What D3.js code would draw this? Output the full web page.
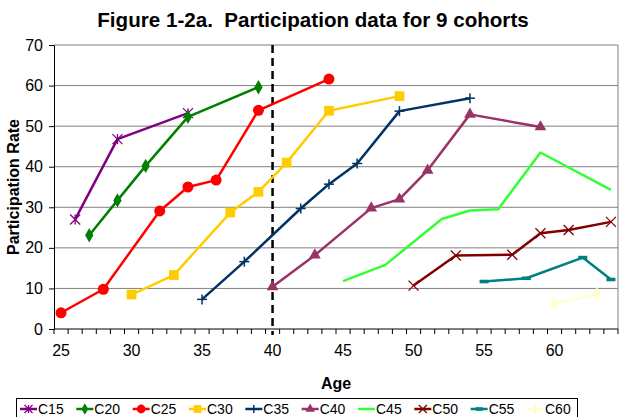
<!DOCTYPE html>
<html><head><meta charset="utf-8">
<script src="https://cdn.jsdelivr.net/npm/d3@7"></script>
<style>
html,body{margin:0;padding:0;background:#fff;}
svg{display:block;font-family:"Liberation Sans",Arial,sans-serif;}
</style></head>
<body>
<svg id="chart" width="624" height="417"></svg>
<script>
const ages = d3.range(25, 65);
const xTickLabels = [25, 30, 35, 40, 45, 50, 55, 60];
const yTicks = [0, 10, 20, 30, 40, 50, 60, 70];
const cohortNames = ["C15","C20","C25","C30","C35","C40","C45","C50","C55","C60"];
const C15 = [[26,27.0],[29,46.8],[34,53.2]];
const C20 = [[27,23.1],[29,31.7],[31,40.2],[34,52.3],[39,59.6]];
const C25 = [[25,4.0],[28,9.8],[32,29.1],[34,35.0],[36,36.7],[39,53.9],[44,61.6]];
const C30 = [[30,8.5],[33,13.3],[37,28.7],[39,33.8],[41,41.0],[44,53.8],[49,57.4]];
const C35 = [[35,7.3],[38,16.6],[42,29.7],[44,35.7],[46,40.8],[49,53.7],[54,56.9]];
const C40 = [[40,10.4],[43,18.2],[47,29.8],[49,32.0],[51,39.1],[54,52.9],[59,49.8]];
const C45 = [[45,11.8],[48,15.8],[52,27.1],[54,29.2],[56,29.5],[59,43.5],[64,34.3]];
const C50 = [[50,10.7],[53,18.1],[57,18.3],[59,23.6],[61,24.4],[64,26.4]];
const C55 = [[55,11.7],[58,12.5],[62,17.6],[64,12.2]];
const C60 = [[60,6.3],[63,8.6]];
const dividerAge = 40;

const seriesData = [C15,C20,C25,C30,C35,C40,C45,C50,C55,C60];
const colors = ["#800080","#008000","#FF0000","#FFCC00","#003366","#993366","#33FF33","#800000","#008080","#FFFFCC"];
const markers = ["star","diamond","circle","square","plus","triangle","none","x","dash","diamond"];

const svg = d3.select("#chart");
const pL = 54, pR = 618, pT = 45, pB = 329;
const x = d3.scaleBand().domain(ages).range([pL, pR]).paddingInner(0).paddingOuter(0);
const xc = a => x(a) + x.bandwidth()/2;
const y = d3.scaleLinear().domain([0, 70]).range([pB, pT]);

// title
svg.append("text").attr("x", 313).attr("y", 27).attr("text-anchor","middle")
  .style("white-space","pre").attr("xml:space","preserve")
  .attr("font-size", 20.6).attr("font-weight","bold").text("Figure 1-2a.  Participation data for 9 cohorts");

// gridlines
svg.append("g").selectAll("line").data(yTicks.filter(d=>d>0)).join("line")
  .attr("x1", pL).attr("x2", pR).attr("y1", d=>y(d)).attr("y2", d=>y(d))
  .attr("stroke","#808080").attr("stroke-width",1);
// right border
svg.append("line").attr("x1", pR).attr("x2", pR).attr("y1", pT).attr("y2", pB)
  .attr("stroke","#808080").attr("stroke-width",1);

// y axis
const yAxis = svg.append("g").attr("transform",`translate(${pL},0)`)
  .call(d3.axisLeft(y).tickValues(yTicks).tickSize(5).tickPadding(6));
yAxis.select(".domain").attr("stroke","#000");
yAxis.selectAll(".tick line").attr("stroke","#000");
yAxis.selectAll("text").attr("font-size",16).attr("font-family","Liberation Sans, Arial, sans-serif").attr("fill","#000");

// x axis line and boundary ticks
svg.append("line").attr("x1", pL).attr("x2", pR).attr("y1", pB).attr("y2", pB).attr("stroke","#000");
svg.append("g").selectAll("line").data(ages.concat([null])).join("line")
  .attr("x1", d=> d===null ? pR : x(d)).attr("x2", d=> d===null ? pR : x(d))
  .attr("y1", pB).attr("y2", pB+5).attr("stroke","#000");
const xAxis = svg.append("g").attr("transform",`translate(0,${pB})`)
  .call(d3.axisBottom(x).tickValues(xTickLabels).tickSize(0).tickPadding(16));
xAxis.select(".domain").remove();
xAxis.selectAll("text").attr("font-size",16).attr("font-family","Liberation Sans, Arial, sans-serif").attr("fill","#000");

// axis titles
svg.append("text").attr("x", 336).attr("y", 389).attr("text-anchor","middle")
  .attr("font-size",16).attr("font-weight","bold").text("Age");
svg.append("text").attr("transform",`translate(19,${(pT+pB)/2}) rotate(-90)`).attr("text-anchor","middle")
  .attr("font-size",16).attr("font-weight","bold").text("Participation Rate");

// dashed divider
svg.append("line").attr("x1", xc(dividerAge)).attr("x2", xc(dividerAge)).attr("y1", pT).attr("y2", pB+6)
  .attr("stroke","#000").attr("stroke-width",2.5).attr("stroke-dasharray","8,5");

function drawMarker(g, type, color, cx, cy, scale) {
  scale = scale || 1;
  const s = 5*scale;
  if (type === "star") {
    [[-s,-s,s,s],[-s,s,s,-s],[0,-s,0,s]].forEach(l=>
      g.append("line").attr("x1",cx+l[0]).attr("y1",cy+l[1]).attr("x2",cx+l[2]).attr("y2",cy+l[3])
       .attr("stroke",color).attr("stroke-width",1.3));
  } else if (type === "x") {
    [[-s,-s,s,s],[-s,s,s,-s]].forEach(l=>
      g.append("line").attr("x1",cx+l[0]).attr("y1",cy+l[1]).attr("x2",cx+l[2]).attr("y2",cy+l[3])
       .attr("stroke",color).attr("stroke-width",1.3));
  } else if (type === "plus") {
    [[-s,0,s,0],[0,-s,0,s]].forEach(l=>
      g.append("line").attr("x1",cx+l[0]).attr("y1",cy+l[1]).attr("x2",cx+l[2]).attr("y2",cy+l[3])
       .attr("stroke",color).attr("stroke-width",1.5));
  } else if (type === "dash") {
    g.append("rect").attr("x",cx-4.5*scale).attr("y",cy-1.8).attr("width",9*scale).attr("height",3.6).attr("fill",color);
  } else if (type === "circle") {
    g.append("circle").attr("cx",cx).attr("cy",cy).attr("r",5.5*scale).attr("fill",color);
  } else if (type !== "none") {
    const sym = {diamond:d3.symbolDiamond, square:d3.symbolSquare, triangle:d3.symbolTriangle}[type];
    const size = {diamond:60, square:95, triangle:60}[type]*scale*scale;
    g.append("path").attr("d", d3.symbol().type(sym).size(size)()).attr("transform",`translate(${cx},${cy})`).attr("fill",color);
  }
}

const line = d3.line().x(d=>xc(d[0])).y(d=>y(d[1]));
seriesData.forEach((data,i)=>{
  const g = svg.append("g");
  g.append("path").datum(data).attr("d", line).attr("fill","none")
    .attr("stroke", colors[i]).attr("stroke-width", 2.5).attr("stroke-linejoin","round");
  data.forEach(d=> drawMarker(g, markers[i], colors[i], xc(d[0]), y(d[1])));
});

// legend
const legend = svg.append("g");
legend.append("rect").attr("x",16.5).attr("y",398.5).attr("width",561).attr("height",30)
  .attr("fill","none").attr("stroke","#000").attr("stroke-width",1);
const legX = d3.scalePoint().domain(cohortNames).range([20, 527]);
cohortNames.forEach((n,i)=>{
  const lx = legX(n);
  legend.append("line").attr("x1",lx).attr("x2",lx+17).attr("y1",409).attr("y2",409)
    .attr("stroke",colors[i]).attr("stroke-width",2.5);
  drawMarker(legend, markers[i], colors[i], lx+8.5, 409, 0.8);
  legend.append("text").attr("x",lx+18).attr("y",414).attr("font-size",14).text(n);
});
</script>
</body></html>
